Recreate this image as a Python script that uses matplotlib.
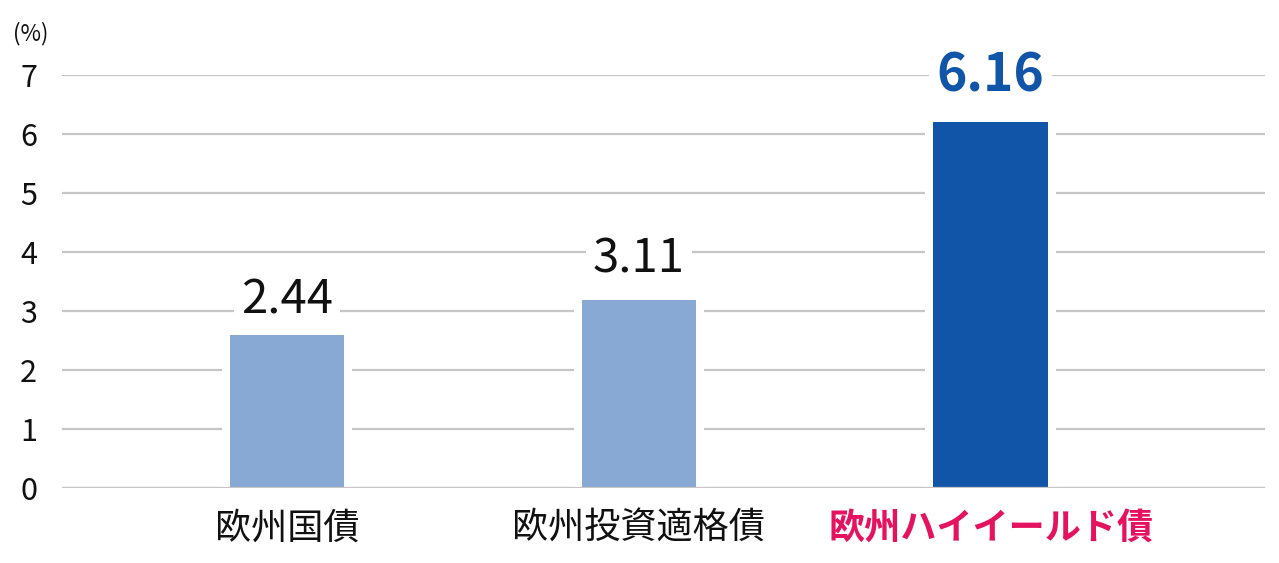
import matplotlib
matplotlib.use("Agg")
import matplotlib.pyplot as plt

plt.rcParams['font.family'] = ['Noto Sans CJK JP', 'DejaVu Sans']

categories = ['欧州国債', '欧州投資適格債', '欧州ハイイールド債']
bar_heights = [2.59, 3.19, 6.20]
value_labels = ['2.44', '3.11', '6.16']
yticks = [0, 1, 2, 3, 4, 5, 6, 7]

bar_colors = ['#88A9D4', '#88A9D4', '#1155A8']
label_colors = ['#111111', '#111111', '#1155A8']
label_weights = ['normal', 'normal', 'bold']
label_sizes = [34, 34, 37]
label_offsets = [25, 29, 33]  # points above bar top
cat_colors = ['#111111', '#111111', '#E5135F']
cat_weights = ['normal', 'normal', 'bold']

DPI = 100
fig = plt.figure(figsize=(12.79, 5.63), dpi=DPI)
ax = fig.add_axes([62/1279, 1-488/563, (1265-62)/1279, (488-75)/563])

x = list(range(len(categories)))
width = 0.325
px_x = 351.5  # pixels per category unit
px_y = 59.0   # pixels per y unit
gap = 8

ax.set_xlim(-0.64, 2.78)
ax.set_ylim(0, 7)

for yv in yticks:
    ax.axhline(yv, color='#C6C6C6', lw=1.6, zorder=0)

# white halo behind bars
ax.bar(x, [h + gap/px_y for h in bar_heights], width=width + 2*gap/px_x,
       color='white', zorder=1)
ax.bar(x, bar_heights, width=width, color=bar_colors, zorder=2)
ax.axhline(0, color='#C6C6C6', lw=1.6, zorder=3)

for xi, h, t, c, w, s, off in zip(x, bar_heights, value_labels, label_colors,
                                  label_weights, label_sizes, label_offsets):
    ax.annotate(t, (xi, h), xytext=(0, off), textcoords='offset points',
                ha='center', va='center', fontsize=s, color=c, fontweight=w,
                zorder=4, annotation_clip=False,
                bbox=dict(boxstyle='square,pad=0.15', fc='white', ec='none'))

ax.set_yticks(yticks)
ax.set_yticklabels([str(v) for v in yticks], fontsize=22, color='#111111')
ax.tick_params(axis='y', length=0, pad=18)
ax.set_xticks(x)
ax.set_xticklabels(categories, fontsize=26)
ax.tick_params(axis='x', length=0, pad=16)
for lbl, c, w in zip(ax.get_xticklabels(), cat_colors, cat_weights):
    lbl.set_color(c)
    lbl.set_fontweight(w)

for sp in ax.spines.values():
    sp.set_visible(False)

fig.text(13/1279, 1-34/563, '(%)', fontsize=16, ha='left', va='center', color='#111111')

fig.savefig('out.png', dpi=DPI, facecolor='white')
